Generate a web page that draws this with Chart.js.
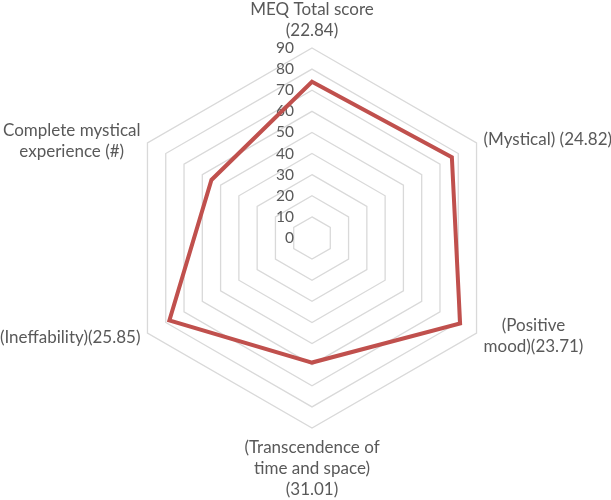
<!DOCTYPE html>
<html>
<head>
<meta charset="utf-8">
<script src="https://cdn.jsdelivr.net/npm/chart.js@4.4.1/dist/chart.umd.min.js"></script>
<style>
  html, body { margin: 0; padding: 0; background: #fff; }
  #wrap { width: 611px; height: 500px; }
</style>
</head>
<body>
<div id="wrap"><canvas id="myChart" width="611" height="500"></canvas></div>
<script>
const labels = [
    ['MEQ Total score', '(22.84)'],
    ['(Mystical) (24.82)'],
    ['(Positive', 'mood)(23.71)'],
    ['(Transcendence of', 'time and space)', '(31.01)'],
    ['(Ineffability)(25.85)'],
    ['Complete mystical', 'experience (#)']
];
const scores = [74, 76.5, 81, 59, 78, 55];
const tickValues = [0, 10, 20, 30, 40, 50, 60, 70, 80, 90];

const ctx = document.getElementById('myChart');
const textColor = '#595959';
const lineH = 21;

// tick labels sit left of the centre line, like Excel does it
const tickLabels = {
    id: 'tickLabels',
    beforeDatasetsDraw(chart) {
        const scale = chart.scales.r;
        const c = chart.ctx;
        c.save();
        c.font = '15.5px Lato';
        c.fillStyle = textColor;
        c.textAlign = 'right';
        c.textBaseline = 'middle';
        tickValues.forEach(v => {
            const y = scale.yCenter - scale.getDistanceFromCenterForValue(v);
            c.fillText(String(v), scale.xCenter - 18, y);
        });
        c.restore();
    }
};

// category labels placed next to the outer ring vertices
const axisLabels = {
    id: 'axisLabels',
    afterDraw(chart) {
        const scale = chart.scales.r;
        const c = chart.ctx;
        c.save();
        c.font = '17px Lato';
        c.fillStyle = textColor;
        c.textAlign = 'center';
        c.textBaseline = 'middle';
        labels.forEach((lines, i) => {
            const p = scale.getPointPosition(i, scale.drawingArea);
            const w = Math.max(...lines.map(s => c.measureText(s).width));
            const h = lines.length * lineH;
            let cx, top;
            if (Math.abs(p.x - scale.xCenter) < 1) {
                cx = p.x;
                top = p.y < scale.yCenter ? p.y - 7 - h : p.y + 9;
            } else if (p.x > scale.xCenter) {
                cx = p.x + 7 + w / 2;
                top = p.y + (p.y < scale.yCenter ? -3 : 3) - h / 2;
            } else {
                cx = p.x - 7 - w / 2;
                top = p.y + (p.y < scale.yCenter ? -2 : 5) - h / 2;
            }
            lines.forEach((s, k) => {
                c.fillText(s, cx, top + lineH * k + lineH / 2);
            });
        });
        c.restore();
    }
};

new Chart(ctx, {
    type: 'radar',
    data: {
        labels: labels,
        datasets: [{
            label: 'MEQ',
            data: scores,
            borderWidth: 4,
            borderColor: '#c0504d',
            backgroundColor: 'rgba(0,0,0,0)',
            fill: false,
            pointRadius: 0,
            tension: 0
        }]
    },
    options: {
        responsive: false,
        animation: false,
        layout: { padding: { top: 48, bottom: 72, left: 122, right: 109 } },
        plugins: {
            legend: { display: false },
            tooltip: { enabled: false }
        },
        scales: {
            r: {
                min: 0,
                max: 90,
                beginAtZero: true,
                ticks: { display: false, stepSize: 10 },
                angleLines: { display: false },
                grid: { color: '#d9d9d9', lineWidth: 1.3 },
                pointLabels: { display: false }
            }
        }
    },
    plugins: [tickLabels, axisLabels]
});
</script>
</body>
</html>
